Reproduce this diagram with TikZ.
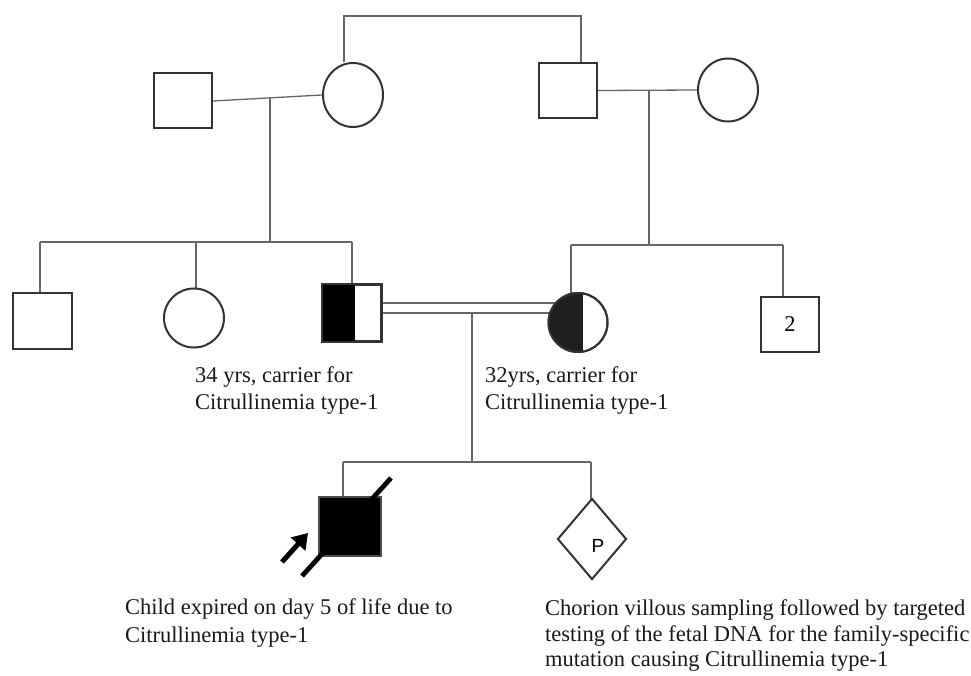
\documentclass[tikz,border=0pt]{standalone}
\usepackage{fontspec}
\setmainfont{Liberation Serif}
\newfontfamily\psans{Liberation Sans}
\usetikzlibrary{shapes.geometric,arrows.meta,calc}
\pgfdeclarelayer{bg}
\pgfsetlayers{bg,main}
\begin{document}
\begin{tikzpicture}[x=1pt,y=-1pt,
  conn/.style={draw=black!60, line width=1.3pt},
  male/.style={draw=black!80, line width=2pt, fill=white, rectangle, minimum width=58pt, minimum height=55pt, inner sep=0pt},
  female/.style={draw=black!80, line width=2pt, fill=white, ellipse, minimum width=60pt, minimum height=62pt, inner sep=0pt},
  lbl/.style={anchor=base west, inner sep=0pt, font=\fontsize{22.5}{27}\selectfont, text=black!90}
]
\useasboundingbox (0,0) rectangle (971,676);

% Generation I
\node[male] (gf1) at (183,101) {};
\node[female, minimum height=64pt] (gm1) at (353,95) {};
\node[male] (gf2) at (568,90.5) {};
\node[female, minimum height=63pt] (gm2) at (728,90) {};

% Generation II
\node[male, minimum width=59pt, minimum height=56pt] (sq1) at (42.5,321) {};
\node[female, minimum height=59pt] (c1) at (194,318) {};
\node[male, minimum height=56pt] (cm) at (352,313) {};
\node[female, minimum width=59pt, minimum height=59pt] (cf) at (578,322.5) {};
\node[male, font=\fontsize{22.5}{27}\selectfont] (sq2) at (790,324.5) {2};

% carrier fills
\fill[black] (cm.north west) rectangle ($(cm.south west)!0.55!(cm.south east)$);
\draw[draw=black!80, line width=2pt] (cm.north west) rectangle (cm.south east);
\begin{scope}
  \clip (cf.center) circle [radius=29.5];
  \fill[black!88] (cf.west |- cf.north) rectangle ([xshift=4.5pt]cf.south);
\end{scope}
\draw[draw=black!80, line width=2pt] (cf.center) circle [radius=29.5];

% Generation III
\node[male, fill=black, draw=black!70, minimum width=62pt, minimum height=59pt] (ch) at (350,526.5) {};
\node[diamond, draw=black!80, line width=2pt, fill=white, minimum width=69pt, minimum height=81pt, inner sep=0pt] (pr) at (592,539) {};
\node[font=\psans\fontsize{19}{19}\selectfont, inner sep=0pt] (pl) at ([xshift=6pt,yshift=-7pt]pr.center) {P};

% deceased slash and proband arrow
\coordinate (ds1) at (302,576);
\coordinate (ds2) at (391,478);
\draw[line width=4.8pt, black] (ds1) -- (ds2);
\coordinate (ar1) at (282,562);
\coordinate (ar2) at (308,533);
\draw[line width=5pt, black, -{Triangle[length=15pt,width=19pt]}] (ar1) -- (ar2);

% labels
\node[lbl] (t34a) at (195,382) {34 yrs, carrier for};
\node[lbl] (t34b) at (195,409) {Citrullinemia type-1};
\node[lbl] (t32a) at (485,382) {32yrs, carrier for};
\node[lbl] (t32b) at (485,409) {Citrullinemia type-1};
\node[lbl] (tc1) at (125,614) {Child expired on day 5 of life due to};
\node[lbl] (tc2) at (125,642) {Citrullinemia type-1};
\node[lbl] (tv1) at (545,615) {Chorion villous sampling followed by targeted};
\node[lbl] (tv2) at (545,641) {testing of the fetal DNA for the family-specific};
\node[lbl] (tv3) at (545,666) {mutation causing Citrullinemia type-1};

% connectors
\begin{pgfonlayer}{bg}
  \fill[white] (0,0) rectangle (971,676);
  \coordinate (t1) at (344,16);
  \coordinate (t2) at (581,16);
  \draw[conn] (gm1.north -| t1) -- (t1) -- (t2) -- (gf2.north -| t2);
  \draw[conn] (gf1.east) -- (gm1.west);
  \draw[conn] (gf2.east) -- (gm2.west);
  % left descent
  \coordinate (d1) at (270,98);
  \coordinate (s1) at (270,242);
  \draw[conn] (d1) -- (s1);
  \coordinate (a1) at (40,242);
  \coordinate (a2) at (196,242);
  \coordinate (a3) at (352,242);
  \draw[conn] (a1) -- (a3);
  \draw[conn] (a1) -- (a1 |- sq1.north);
  \draw[conn] (a2) -- (a2 |- c1.center);
  \draw[conn] (a3) -- (a3 |- cm.north);
  % right descent
  \coordinate (d2) at (649,91);
  \coordinate (s2) at (649,245);
  \draw[conn] (d2) -- (s2);
  \coordinate (b1) at (571,245);
  \coordinate (b2) at (783,245);
  \draw[conn] (b1) -- (b2);
  \draw[conn] (b1) -- (b1 |- cf.center);
  \draw[conn] (b2) -- (b2 |- sq2.north);
  % consanguineous marriage
  \draw[conn] ([yshift=10pt]cm.east) -- ([yshift=10pt]cm.east -| cf.center);
  \draw[conn] (cm.east) -- (cm.east -| cf.center);
  \coordinate (d3) at (472,313);
  \coordinate (s3) at (472,462);
  \draw[conn] (d3) -- (s3);
  \coordinate (e1) at (343,462);
  \coordinate (e2) at (591,462);
  \draw[conn] (e1) -- (e2);
  \draw[conn] (e1) -- (e1 |- ch.north);
  \draw[conn] (e2) -- (e2 |- pr.center);
\end{pgfonlayer}
\end{tikzpicture}
\end{document}
